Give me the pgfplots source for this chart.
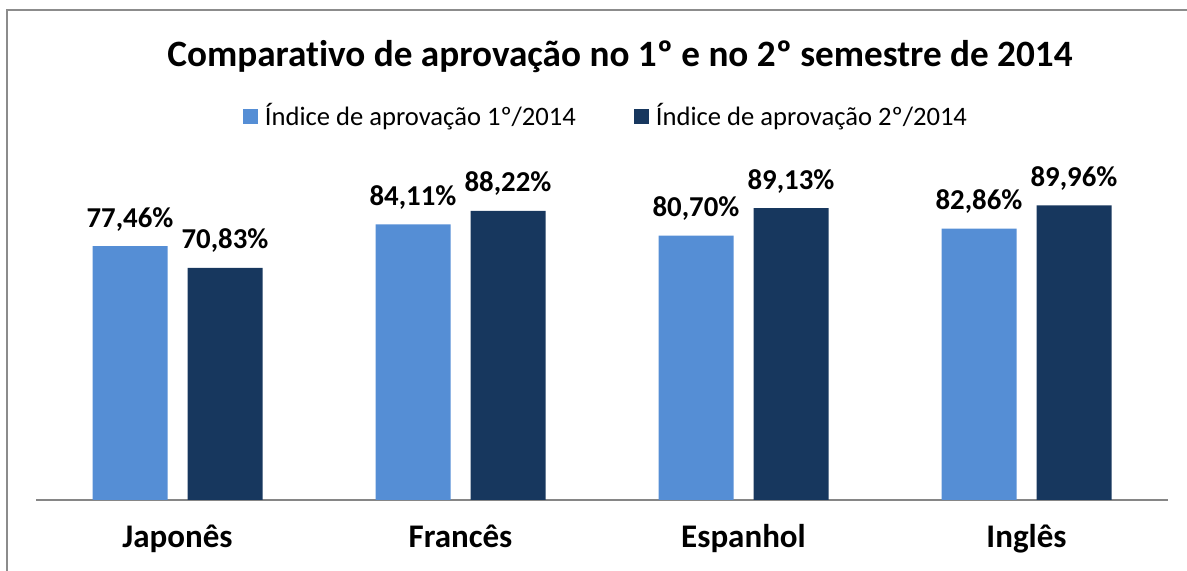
\documentclass[border=0pt]{standalone}
\usepackage{pgfplots}
\pgfplotsset{compat=1.18}
\usepackage{fontspec}
\setmainfont{Carlito}[Ligatures=NoCommon]
\definecolor{serA}{HTML}{558ED5}
\definecolor{serB}{HTML}{17375E}
\definecolor{axgrey}{HTML}{868686}
\definecolor{framegrey}{HTML}{8C8C8C}
\begin{document}
\begin{tikzpicture}
\useasboundingbox (0,0) rectangle (593.5pt,285.5pt);
\draw[framegrey, line width=0.6pt] (3.5pt,-10pt) -- (3.5pt,280.5pt) -- (620pt,280.5pt);
\node[anchor=base, font=\bfseries\fontsize{18.6}{22}\selectfont] at (310pt,252pt) {Comparativo de aprovação no 1º e no 2º semestre de 2014};
\begin{axis}[
  at={(18pt,35.5pt)}, anchor=south west,
  scale only axis,
  width=566pt, height=163.8pt,
  ymin=0, ymax=100,
  xmin=-0.5, xmax=3.5,
  axis y line=none,
  axis x line*=bottom,
  x axis line style={draw=axgrey, line width=0.7pt, -},
  xtick=data,
  xticklabels={Japonês, Francês, Espanhol, Inglês},
  major tick length=0pt,
  xticklabel style={anchor=base, yshift=-24pt, font=\bfseries\fontsize{16.5}{19}\selectfont, text=black},
  ybar=10pt,
  bar width=37.5pt,
  /pgf/number format/.cd, fixed, fixed zerofill, precision=2, use comma, assume math mode=true,
  /pgfplots/.cd,
  nodes near coords={\pgfmathprintnumber{\pgfplotspointmeta}\%},
  every node near coord/.append style={anchor=base, yshift=9.5pt, font=\bfseries\fontsize{14.4}{17}\selectfont, text=black},
  legend columns=-1,
  legend style={draw=none, fill=none, inner sep=0pt, at={(0.5044,1.12)}, anchor=south,
    font=\fontsize{13.3}{16}\selectfont,
    /tikz/every even column/.append style={column sep=27pt},
    /tikz/every odd column/.append style={column sep=1.5pt}},
  legend image code/.code={\fill[#1] (0pt,-4pt) rectangle (7.5pt,3.5pt);},
]
\addplot[fill=serA, draw=none] coordinates {(0,77.46) (1,84.11) (2,80.70) (3,82.86)};
\addplot[fill=serB, draw=none] coordinates {(0,70.83) (1,88.22) (2,89.13) (3,89.96)};
\legend{Índice de aprovação 1º/2014, Índice de aprovação 2º/2014}
\end{axis}
\end{tikzpicture}
\end{document}
